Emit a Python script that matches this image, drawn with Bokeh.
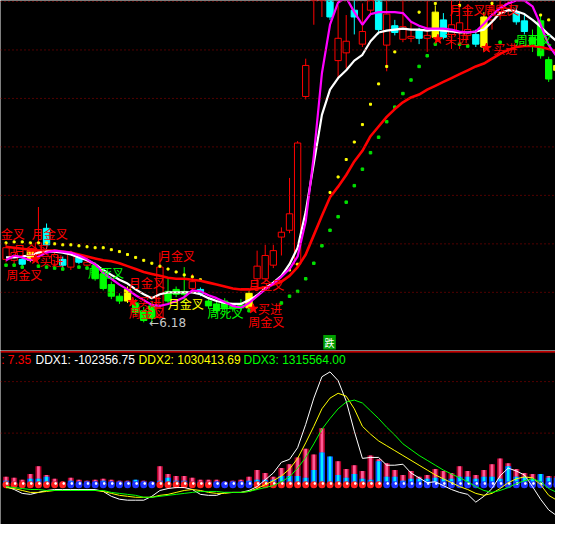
import numpy as np
from bokeh.plotting import figure
from bokeh.layouts import column
from bokeh.models import Range1d, Span
from bokeh.embed import file_html
from bokeh.resources import INLINE
from bokeh.core.properties import value

nan = float("nan")

# ---------------- price panel data (bar index 0..68) ----------------
opens = [6.84,6.83,6.84,6.83,6.89,7.16,6.79,6.84,6.76,6.86,6.78,6.78,6.69,6.58,6.46,6.41,6.39,6.31,6.36,6.24,
         6.51,6.53,6.51,6.54,6.53,6.41,6.38,6.41,6.36,6.37,6.34,6.64,6.64,6.78,7.07,7.14,6.79,8.52,9.60,9.65,
         9.95,8.89,8.97,9.41,9.06,9.41,9.70,9.05,9.25,9.11,9.12,9.20,9.12,9.13,9.31,9.16,9.18,9.15,9.16,9.03,
         9.31,9.39,9.43,9.39,9.30,9.13,9.30,8.90,8.79]
highs = [7.01,6.97,6.88,6.95,7.38,7.21,6.93,6.87,6.93,6.89,6.85,6.81,6.72,6.61,6.49,6.56,6.43,6.35,6.40,6.91,
         6.64,6.56,6.76,6.69,6.55,6.44,6.41,6.44,6.39,6.43,6.51,6.93,6.99,6.99,7.17,7.68,8.06,8.91,10.10,10.20,
         10.11,9.46,9.36,9.71,9.48,9.91,9.80,9.61,9.31,9.56,9.29,9.23,9.51,9.46,9.38,9.56,9.51,9.46,9.21,9.39,
         9.61,9.66,9.61,9.46,9.36,9.21,9.36,8.93,8.87]
lows = [6.81,6.79,6.77,6.81,6.84,6.95,6.76,6.75,6.73,6.79,6.75,6.62,6.52,6.43,6.38,6.39,6.26,6.19,6.18,6.22,
        6.38,6.45,6.39,6.51,6.46,6.33,6.28,6.31,6.30,6.31,6.31,6.56,6.61,6.75,6.88,7.11,6.77,8.49,9.26,9.34,
        9.31,8.71,8.81,9.16,9.03,9.36,9.16,8.78,9.15,9.08,9.08,9.06,8.98,9.11,9.11,9.01,9.01,9.11,9.03,8.99,
        9.21,9.31,9.36,9.26,9.16,8.98,8.91,8.67,8.76]
closes = [6.96,6.91,6.79,6.93,7.01,6.99,6.89,6.78,6.89,6.81,6.81,6.64,6.54,6.46,6.41,6.53,6.29,6.21,6.23,6.76,
          6.41,6.48,6.48,6.61,6.49,6.36,6.31,6.34,6.33,6.34,6.49,6.77,6.88,6.93,7.12,7.31,8.04,8.84,9.95,10.00,
          9.34,9.12,9.09,9.34,9.19,9.71,9.21,9.37,9.18,9.24,9.14,9.12,9.15,9.39,9.13,9.26,9.28,9.21,9.06,9.34,
          9.41,9.46,9.48,9.29,9.19,9.06,8.94,8.70,8.84]
# r = up (hollow red), c = down (cyan), g = green, y = yellow signal bar
kinds = list("rrcyrcrcrcrggggygggrgggrcgggggyrrrrrrrrrcrrcrrcrcrrcrycrrrcyrrrccgggy")

ma_red = [6.97,6.96,6.95,6.94,6.93,6.93,6.93,6.92,6.91,6.89,6.87,6.85,6.83,6.82,6.80,6.77,6.74,6.71,6.69,6.67,
          6.65,6.64,6.64,6.63,6.62,6.60,6.58,6.56,6.54,6.53,6.53,6.54,6.55,6.58,6.61,6.67,6.76,6.89,7.09,7.29,
          7.48,7.59,7.71,7.85,7.96,8.11,8.21,8.31,8.39,8.46,8.51,8.54,8.59,8.63,8.67,8.71,8.75,8.79,8.83,8.86,
          8.91,8.96,9.00,9.03,9.04,9.04,9.03,9.01,8.99]
ma_white = [6.86,6.86,6.87,6.88,6.91,6.92,6.92,6.91,6.89,6.86,6.83,6.79,6.73,6.68,6.63,6.59,6.53,6.48,6.44,6.48,
            6.50,6.50,6.50,6.50,6.48,6.44,6.41,6.39,6.38,6.38,6.42,6.47,6.54,6.60,6.67,6.79,6.96,7.33,7.83,8.33,
            8.59,8.71,8.79,8.89,8.95,9.09,9.18,9.20,9.21,9.22,9.21,9.21,9.20,9.21,9.20,9.19,9.18,9.18,9.19,9.21,
            9.29,9.38,9.41,9.40,9.37,9.31,9.24,9.16,9.09]
ma_magenta = [6.83,6.88,6.86,6.83,6.87,6.91,6.93,6.92,6.91,6.88,6.84,6.79,6.70,6.64,6.58,6.53,6.47,6.42,6.37,6.36,
              6.38,6.41,6.45,6.52,6.51,6.47,6.44,6.40,6.36,6.34,6.39,6.46,6.53,6.59,6.66,6.74,6.87,7.23,7.91,8.76,
              9.26,9.49,9.54,9.39,9.26,9.37,9.39,9.39,9.39,9.38,9.29,9.25,9.22,9.22,9.22,9.21,9.19,9.18,9.19,9.27,
              9.36,9.43,9.48,9.51,9.51,9.45,9.26,9.05,8.93]
dots_yellow = [7.01,7.02,7.02,7.01,7.01,7.01,7.00,6.99,6.99,6.98,6.97,6.96,6.96,6.94,6.92,6.89,6.86,6.83,6.80,6.77,
               6.74,6.71,6.68,6.66,6.63,nan,nan,nan,nan,nan,nan,nan,nan,nan,nan,6.73,6.79,nan,nan,nan,
               7.53,7.69,7.87,8.05,8.23,8.44,8.65,8.83,8.98,nan,nan,9.39,nan,9.48,nan,nan,9.46,nan,nan,nan,
               9.48,nan,nan,nan,nan,nan,9.36,9.31,nan]
dots_green = [6.78,6.78,6.76,nan,6.77,6.76,6.75,6.74,nan,6.76,6.75,nan,nan,nan,nan,nan,nan,nan,nan,nan,
              nan,nan,nan,nan,nan,nan,nan,nan,nan,nan,6.31,nan,nan,nan,6.39,6.46,6.51,6.64,6.80,6.98,
              7.14,7.28,7.43,7.60,7.77,7.94,8.10,8.26,8.41,8.55,8.69,8.83,8.94,9.06,nan,nan,9.06,9.04,nan,nan,
              nan,9.08,nan,9.09,nan,nan,nan,nan,nan]
price_grid = [9.5, 9.0, 8.5, 8.0, 7.5, 7.0, 6.5]

# signal labels: (bar position, price, text, colour)
sig_x = [-0.66, 3.16, 0.88, 0.04, 4.12, 10.12, 15.16, 15.16, 16.24, 18.88, 19.96, 24.88, 29.92, 31.12, 29.92,
         54.76, 58.96, 54.16, 60.16, 62.92]
sig_y = [7.11, 7.11, 6.94, 6.68, 6.83, 6.70, 6.60, 6.29, 6.41, 6.88, 6.38, 6.29, 6.58, 6.33, 6.20,
         9.42, 9.42, 9.12, 9.02, 9.11]
sig_text = ["金叉", "月金叉", "月金叉", "周金叉", "买进", "周死叉", "月金叉", "周金叉", "买进", "月金叉", "月金叉",
            "周死叉", "月金叉", "买进", "周金叉", "月金叉", "周金叉", "买进", "买进", "周死叉"]
sig_color = ["#ff0000", "#ff0000", "#ff0000", "#ff0000", "#ff0000", "#00ff00", "#ff0000", "#ff0000", "#ff0000",
             "#ff0000", "#ffff00", "#00ff00", "#ff0000", "#ff0000", "#ff0000", "#ff0000", "#ff0000", "#ff0000",
             "#ff0000", "#00ff00"]
star_x = [3.64, 15.64, 30.52, 53.32, 59.32]
star_y = [6.84, 6.40, 6.33, 9.11, 9.02]
low_label_x, low_label_y, low_label = 17.68, 6.18, "←6.18"
drop_x, drop_y, drop_text = 39.94, 5.985, "跌"

# ---------------- DDX panel data ----------------
ddx_red = [8,7,5,11,19,10,6,3,7,5,4,5,6,5,4,4,4,4,3,19,11,9,9,7,5,5,5,3,4,5,8,15,12,8,17,21,28,37,31,58,
           27,24,16,20,14,30,26,22,15,10,14,8,10,16,14,12,19,14,10,15,21,27,22,16,12,11,10,9,9]
ddx_cyan = [4,3,2,6,6,8,3,2,4,3,3,3,4,3,3,3,5,3,2,4,7,4,4,3,3,3,3,2,3,3,4,5,5,5,9,9,9,7,15,33,
            29,10,7,11,6,5,24,8,8,4,6,6,6,7,6,6,8,8,6,8,8,6,19,8,8,6,11,7,7]
dot_up = [1]*8 + [0]*11 + [1]*7 + [0]*5 + [1]*16 + [0]*22
ddx1 = [-2,-5,-9,-10,-8,-6,-5,-5,-5,-5,-5,-5,-7,-12,-15,-16,-16,-16,-12,-6,-4,-3,-3,-5,-10,-11,-11,-8,-8,-8,
        -6,-2,5,12,23,26,38,62,89,111,116,107,86,55,27,28,28,20,20,21,12,7,2,3,-1,-5,-8,-10,-18,-12,
        -4,9,17,14,10,-2,-15,-26,-32]
ddx2 = [-3,-4,-6,-8,-8,-7,-6,-6,-6,-6,-6,-6,-7,-9,-11,-12,-13,-13,-13,-11,-10,-8,-6,-5,-6,-8,-9,-9,-8,-8,
        -7,-4,0,4,9,16,27,43,60,78,89,94,91,78,60,52,45,40,35,30,25,20,15,10,6,2,-2,-5,-9,-11,
        -9,-4,2,6,8,7,0,-11,-16]
ddx3 = [-2,-3,-4,-5,-5,-6,-6,-6,-6,-6,-6,-6,-6,-8,-9,-10,-11,-13,-13,-12,-11,-10,-9,-8,-7,-7,-7,-8,-8,-8,
        -7,-5,-3,-1,3,8,17,28,42,57,68,78,85,87,84,76,68,59,51,42,36,30,25,20,15,11,7,3,-2,-6,
        -8,-6,-3,1,4,6,3,-4,-8]
ddx_grid = [106, 53]
header_x = [-0.60, 3.64, 16.36, 29.32]
header_text = [": 7.35", "DDX1: -102356.75", "DDX2: 1030413.69", "DDX3: 1315564.00"]
header_color = ["#ff0000", "#ffffff", "#ffff00", "#00ff00"]

# ---------------- drawing ----------------
W, H_TOP, H_BOT = 555, 350, 174
xr = Range1d(-0.684, 67.84)
n = len(opens)
idx = np.arange(n)
o = np.array(opens); c = np.array(closes); hi = np.array(highs); lo = np.array(lows)

top = figure(width=W, height=H_TOP, x_range=xr, y_range=Range1d(5.90, 9.51),
             output_backend="svg", toolbar_location=None, x_axis_location=None, y_axis_location=None,
             background_fill_color="black", border_fill_color="black", min_border=0)
top.grid.visible = False
top.outline_line_color = None
for lv in price_grid:
    top.add_layout(Span(location=lv, dimension="width", line_color="#a00000", line_dash="1 3", line_width=1))

colmap = {"r": "#ff0000", "c": "#00ffff", "g": "#00ff00", "y": "#ffff00"}
wick_col = [colmap[k] for k in kinds]
top.segment(x0=idx, y0=lo, x1=idx, y1=hi, line_color=wick_col, line_width=1)
body_top = np.maximum(o, c); body_bot = np.minimum(o, c)
body_bot = np.where(body_top - body_bot < 0.012, body_top - 0.012, body_bot)
fill = ["black" if k == "r" else colmap[k] for k in kinds]
top.vbar(x=idx, width=0.78, top=body_top, bottom=body_bot, fill_color=fill, line_color=wick_col, line_width=1)

top.scatter(idx, np.array(dots_yellow), marker="square", size=2, color="#ffff00")
top.scatter(idx, np.array(dots_green), marker="square", size=2.5, color="#00e000")

top.line(idx, ma_red, line_color="#ff0000", line_width=2.6)
top.line(idx, ma_white, line_color="#ffffff", line_width=2.2)
top.line(idx, ma_magenta, line_color="#ff00ff", line_width=2.2)

top.text(x=sig_x, y=sig_y, text=sig_text, text_color=sig_color, text_font=value("Noto Sans CJK SC"),
         text_font_size="12px", text_baseline="middle", text_align="left")
top.scatter(star_x, star_y, marker="star", size=10, color="#ff0000")
top.text(x=[low_label_x], y=[low_label_y], text=[low_label], text_color="#c8c8c8",
         text_font=value("DejaVu Sans"), text_font_size="12px", text_baseline="middle", text_align="left")
top.rect(x=[drop_x], y=[drop_y], width=1.55, height=0.15, fill_color="#00a000", line_color=None)
top.text(x=[drop_x], y=[drop_y], text=[drop_text], text_color="#ffffff", text_font=value("Noto Sans CJK SC"),
         text_font_size="10px", text_baseline="middle", text_align="center")

bot = figure(width=W, height=H_BOT, x_range=xr, y_range=Range1d(-41, 138),
             output_backend="svg", toolbar_location=None, x_axis_location=None, y_axis_location=None,
             background_fill_color="black", border_fill_color="black", min_border=0)
bot.grid.visible = False
bot.outline_line_color = None
bot.add_layout(Span(location=136.6, dimension="width", line_color="#ff0000", line_width=1.3))
for lv in ddx_grid:
    bot.add_layout(Span(location=lv, dimension="width", line_color="#a00000", line_dash="1 3", line_width=1))

bot.vbar(x=idx, width=0.74, top=ddx_red, bottom=0, fill_color="#b0002a", line_color=None)
bot.vbar(x=idx, width=0.34, top=ddx_red, bottom=0, fill_color="#ff5a96", line_color=None)
bot.vbar(x=idx, width=0.74, top=ddx_cyan, bottom=0, fill_color="#0050ff", line_color=None)
bot.vbar(x=idx, width=0.34, top=ddx_cyan, bottom=0, fill_color="#00f0ff", line_color=None)
dot_col = ["#ff1e1e" if u else "#1e32ff" for u in dot_up]
bot.scatter(idx, np.zeros(n), marker="circle", size=7, fill_color=dot_col, line_color=None)
bot.scatter(idx + 0.12, np.full(n, 1.2), marker="square", size=1.5, color="#ffffff")

bot.line(idx, ddx1, line_color="#ffffff", line_width=1)
bot.line(idx, ddx2, line_color="#ffff00", line_width=1)
bot.line(idx, ddx3, line_color="#00ff00", line_width=1)

bot.text(x=header_x, y=[128]*4, text=header_text, text_color=header_color,
         text_font=value("Liberation Sans"), text_font_size="12px", text_baseline="middle", text_align="left")

p = column(top, bot, spacing=0)
open("out.html", "w").write(file_html(p, INLINE))
